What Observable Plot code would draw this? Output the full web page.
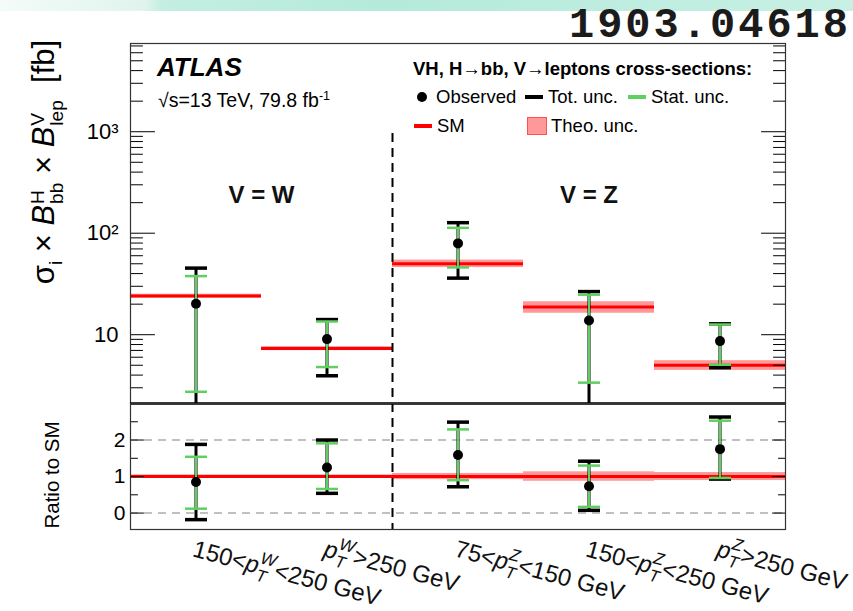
<!DOCTYPE html>
<html>
<head>
<meta charset="utf-8">
<script src="https://cdn.jsdelivr.net/npm/d3@7"></script>
<script src="https://cdn.jsdelivr.net/npm/@observablehq/plot@0.6"></script>
<style>
  html, body { margin: 0; padding: 0; background: #fff; }
  #page { position: relative; width: 853px; height: 611px; overflow: hidden; background: #fff;
          font-family: "Liberation Sans", Arial, Helvetica, sans-serif; color: #000; }
  #banner { position: absolute; left: 0; top: 0; width: 853px; height: 11px;
            background: linear-gradient(to right, #f4fbf9 0%, #e0f4ee 17%, #c3eee1 19%, #b5eada 45%, #bfede0 75%, #c8f0e4 100%); }
  #arxiv { position: absolute; right: 2px; top: 5px; font: bold 42px/42px "Liberation Mono", "DejaVu Sans Mono", monospace;
           letter-spacing: 3px; color: #1b1b1b; }
  .txt { position: absolute; white-space: nowrap; }
  .rot { position: absolute; white-space: nowrap; line-height: 1.2; transform: translate(-50%, -50%) rotate(-90deg); }
  .stk { display: inline-block; font-size: 0.62em; line-height: 1; vertical-align: -0.48em; margin-left: 0.04em; }
  .stk > span { display: block; }
  .sub { font-size: 0.62em; vertical-align: -0.45em; }
  .sw { position: absolute; }
</style>
</head>
<body>
<div id="page">
  <div id="banner"></div>
  <div id="arxiv">1903.04618</div>
  <div class="rot" style="left:46px; top:162px; font-size:31px;">σ<span class="sub">i</span> × <i>B</i><span class="stk"><span>H</span><span>bb</span></span> × <i>B</i><span class="stk"><span>V</span><span>lep</span></span>&nbsp; [fb]</div>
  <div class="rot" style="left:52px; top:475px; font-size:20.5px;">Ratio to SM</div>
</div>
<script>
// ---- Bins: V = W (two pT bins) and V = Z (three pT bins) ----
const binLabels = ["150<p_T^W<250 GeV", "p_T^W>250 GeV", "75<p_T^Z<150 GeV", "150<p_T^Z<250 GeV", "p_T^Z>250 GeV"];
const groupLabels = ["V = W", "V = Z"];
const groupFirstBin = [0, 2];
const groupLastBin = [1, 4];

// ---- Cross-sections times branching ratios [fb] ----
const smXsec   = [24.0, 7.3, 50.1, 18.7, 5.0];
const theoUnc  = [0.045, 0.045, 0.085, 0.13, 0.11];   // relative SM uncertainty
const obsXsec  = [20.2, 9.05, 79.4, 13.8, 8.65];
const totHigh  = [45.3, 14.1, 127, 26.6, 12.8];
const totLow   = [-4.4, 3.94, 36.1, 1.4, 4.73];
const statHigh = [37.8, 13.5, 113, 24.8, 12.6];
const statLow  = [2.74, 4.80, 46.0, 3.37, 5.06];

// ---- Ratio to SM ----
const obsRatio      = [0.85, 1.25, 1.59, 0.735, 1.75];
const totHighRatio  = [1.88, 2.00, 2.49, 1.42, 2.63];
const totLowRatio   = [-0.18, 0.54, 0.72, 0.075, 0.93];
const statHighRatio = [1.54, 1.91, 2.29, 1.30, 2.53];
const statLowRatio  = [0.12, 0.66, 0.90, 0.17, 0.96];

// ---- Axis ticks ----
const yTopTicks = [10, 100, 1000];
const yTopTickLabels = ["10", "10²", "10³"];
const yRatioTicks = [0, 1, 2];
const yRatioTickLabels = ["0", "1", "2"];
const yRatioMinor = [0.5, 1.5, 2.5];

// ---- Layout ----
const W = 853, H = 611;
const frame = {left: 130, right: 785, top: 43, split: 403, bottom: 529};
const yTopDomain = [2.1, 7400];
const yRatioDomain = [-0.45, 3.0];
const floorTop = yTopDomain[0] / 10;   // lower error ends below the axis are clipped at the frame

const red = "#ff0000", green = "#5fcf5f", black = "#000";
const font = '"Liberation Sans", Arial, Helvetica, sans-serif';

const rows = binLabels.map((label, i) => ({
  label, x1: i, x2: i + 1, center: i + 0.5,
  sm: smXsec[i], theo: theoUnc[i],
  obs: obsXsec[i], totHigh: totHigh[i], totLow: Math.max(totLow[i], floorTop),
  statHigh: statHigh[i], statLow: statLow[i],
  rObs: obsRatio[i], rTotHigh: totHighRatio[i], rTotLow: totLowRatio[i],
  rStatHigh: statHighRatio[i], rStatLow: statLowRatio[i]
}));
const groups = groupLabels.map((label, g) => ({label, center: (groupFirstBin[g] + groupLastBin[g] + 1) / 2}));
const boundary = groupLastBin[0] + 1;

// minor ticks of the log axis: 2..9 times each decade
const yTopMinor = [];
for (const dec of [1, 10, 100, 1000]) for (let k = 2; k <= 9; k++) {
  const v = k * dec;
  if (v > yTopDomain[0] && v < yTopDomain[1]) yTopMinor.push(v);
}

// horizontal cap of an error bar
const cap = {draw(ctx) { ctx.moveTo(-11, 0); ctx.lineTo(11, 0); }};
// plain straight line used for the inward tick marks
const tickLine = {draw(ctx, l) { ctx.moveTo(0, 0); ctx.lineTo(0, -l); }};

// inward tick marks on both vertical edges
function edgeTicks(values, len) {
  return [
    Plot.vector(values, {y: d => d, frameAnchor: "left", rotate: 90, length: len, anchor: "start",
                         shape: tickLine, stroke: black, strokeWidth: 1}),
    Plot.vector(values, {y: d => d, frameAnchor: "right", rotate: -90, length: len, anchor: "start",
                         shape: tickLine, stroke: black, strokeWidth: 1})
  ];
}

function errorMarks(yHi, yLo, sHi, sLo, obs, clip) {
  return [
    Plot.ruleX(rows, {x: "center", y1: yLo, y2: yHi, stroke: black, strokeWidth: 3, clip}),
    Plot.ruleX(rows, {x: "center", y1: sLo, y2: sHi, stroke: green, strokeWidth: 2, clip}),
    Plot.dot(rows, {x: "center", y: yHi, symbol: cap, fill: "none", stroke: black, strokeWidth: 3.5, clip}),
    Plot.dot(rows, {x: "center", y: yLo, symbol: cap, fill: "none", stroke: black, strokeWidth: 3.5, clip}),
    Plot.dot(rows, {x: "center", y: sHi, symbol: cap, fill: "none", stroke: green, strokeWidth: 2.5, clip}),
    Plot.dot(rows, {x: "center", y: sLo, symbol: cap, fill: "none", stroke: green, strokeWidth: 2.5, clip}),
    Plot.dot(rows, {x: "center", y: obs, r: 5, fill: black, stroke: "none"})
  ];
}

const banded = rows.filter(d => d.theo > 0);

// ---- Upper panel: cross-sections on a log scale ----
const topPlot = Plot.plot({
  width: W, height: H,
  marginLeft: frame.left, marginRight: W - frame.right, marginTop: frame.top, marginBottom: H - frame.split,
  style: {background: "transparent", fontFamily: font, fontSize: "22px", overflow: "visible"},
  x: {domain: [0, binLabels.length], axis: null},
  y: {type: "log", domain: yTopDomain, axis: null},
  marks: [
    Plot.rect(banded, {x1: "x1", x2: "x2", y1: d => d.sm * (1 - d.theo), y2: d => d.sm * (1 + d.theo), fill: red, fillOpacity: 0.4}),
    Plot.ruleY(rows, {x1: "x1", x2: "x2", y: "sm", stroke: red, strokeWidth: 3}),
    Plot.ruleX([boundary], {insetTop: 90, stroke: black, strokeWidth: 2, strokeDasharray: "9,6"}),
    ...errorMarks("totHigh", "totLow", "statHigh", "statLow", "obs", true),
    Plot.text(groups, {x: "center", text: "label", frameAnchor: "top", dy: 142, fontSize: 24, fontWeight: "bold", fill: "#111"}),
    ...edgeTicks(yTopTicks, 24),
    ...edgeTicks(yTopMinor, 12),
    Plot.axisY({ticks: yTopTicks, tickSize: 0, tickPadding: 12, fontSize: 22, label: null,
                tickFormat: d => yTopTickLabels[yTopTicks.indexOf(d)]}),
    Plot.frame({stroke: "#333", strokeWidth: 1.2}),
    Plot.ruleY([yTopDomain[0]], {stroke: black, strokeWidth: 2.5})
  ]
});

// ---- Lower panel: ratio to the SM prediction ----
const ratioPlot = Plot.plot({
  width: W, height: H,
  marginLeft: frame.left, marginRight: W - frame.right, marginTop: frame.split, marginBottom: H - frame.bottom,
  style: {background: "transparent", fontFamily: font, fontSize: "22px", overflow: "visible"},
  x: {domain: [0, binLabels.length], axis: null},
  y: {domain: yRatioDomain, axis: null},
  marks: [
    Plot.ruleY([0, 2], {stroke: "#c0c0c0", strokeWidth: 2, strokeDasharray: "8,6"}),
    Plot.rect(banded, {x1: "x1", x2: "x2", y1: d => 1 - d.theo, y2: d => 1 + d.theo, fill: red, fillOpacity: 0.4}),
    Plot.ruleY([1], {stroke: red, strokeWidth: 3}),
    Plot.ruleX([boundary], {stroke: black, strokeWidth: 2, strokeDasharray: "9,6"}),
    ...errorMarks("rTotHigh", "rTotLow", "rStatHigh", "rStatLow", "rObs", false),
    ...edgeTicks(yRatioTicks, 13),
    ...edgeTicks(yRatioMinor, 7),
    Plot.axisY({ticks: yRatioTicks, tickSize: 0, tickPadding: 5, fontSize: 21, label: null,
                tickFormat: d => yRatioTickLabels[yRatioTicks.indexOf(d)]}),
    Plot.text(rows, {x: "center", text: "label", frameAnchor: "bottom", dy: 10, rotate: 15,
                     textAnchor: "start", lineAnchor: "top", fontSize: 24, fill: "#111"}),
    Plot.frame({stroke: "#333", strokeWidth: 1.2})
  ]
});

const page = document.getElementById("page");
for (const svg of [topPlot, ratioPlot]) {
  svg.style.position = "absolute";
  svg.style.left = "0px";
  svg.style.top = "0px";
  page.appendChild(svg);
}

// p_T with the boson as superscript and T as subscript, stacked
const NS = "http://www.w3.org/2000/svg";
const xfs = 24;
ratioPlot.querySelectorAll('g[aria-label="text"] text').forEach(el => {
  const m = el.textContent.match(/^(.*)p_T\^(\w)(.*)$/);
  if (!m) return;
  const [, pre, boson, post] = m;
  el.textContent = "";
  const add = (s, attrs) => {
    const t = document.createElementNS(NS, "tspan");
    t.textContent = s;
    for (const k in attrs) t.setAttribute(k, attrs[k]);
    el.appendChild(t);
    return t;
  };
  if (pre) add(pre, {});
  add("p", {"font-style": "italic"});
  const sup = add(boson, {"font-style": "italic", "font-size": xfs * 0.7, dy: -0.45 * xfs});
  const wSup = sup.getComputedTextLength();
  const sub = add("T", {"font-style": "italic", "font-size": xfs * 0.7, dx: -wSup, dy: 0.75 * xfs});
  const wSub = sub.getComputedTextLength();
  add(post, {dx: Math.max(0, wSup - wSub) + 1, dy: -0.3 * xfs});
});

// ---- Text inside the frame: experiment label and legend ----
function addText(html, x, cy, fs, opts = {}) {
  const d = document.createElement("div");
  d.className = "txt";
  d.style.left = x + "px";
  d.style.top = (cy - fs / 2) + "px";
  d.style.fontSize = fs + "px";
  d.style.lineHeight = fs + "px";
  if (opts.bold) d.style.fontWeight = "bold";
  if (opts.italic) d.style.fontStyle = "italic";
  d.innerHTML = html;
  page.appendChild(d);
}
function addBox(x, y, w, h, css) {
  const d = document.createElement("div");
  d.className = "sw";
  Object.assign(d.style, {left: x + "px", top: y + "px", width: w + "px", height: h + "px"}, css);
  page.appendChild(d);
}

addText("ATLAS", 157, 67, 26, {bold: true, italic: true});
addText('√s=13 TeV, 79.8 fb<span style="font-size:0.65em; position:relative; top:-0.55em">-1</span>', 158, 101, 19.5);

const legendTitle = "VH, H→bb, V→leptons cross-sections:";
const legendEntries = [
  {label: "Observed", kind: "dot", x: 416, row: 0},
  {label: "Tot. unc.", kind: "line", color: black, x: 525, row: 0},
  {label: "Stat. unc.", kind: "line", color: green, x: 628, row: 0},
  {label: "SM", kind: "line", color: red, x: 414, row: 1},
  {label: "Theo. unc.", kind: "box", x: 527, row: 1}
];
const legendRowY = [97, 126];
const lfs = 18.5;
addText(legendTitle, 413, 69.5, lfs, {bold: true});
for (const e of legendEntries) {
  const cy = legendRowY[e.row];
  if (e.kind === "dot") {
    addBox(e.x + 1, cy - 5, 10, 10, {background: black, borderRadius: "50%"});
    addText(e.label, e.x + 20, cy, lfs);
  } else if (e.kind === "line") {
    addBox(e.x, cy - 2, 18, 4, {background: e.color});
    addText(e.label, e.x + 23, cy, lfs);
  } else {
    addBox(e.x, cy - 9, 20, 18, {background: "rgba(255,0,0,0.4)", border: "1px solid #ff5050", boxSizing: "border-box"});
    addText(e.label, e.x + 24, cy, lfs);
  }
}
</script>
</body>
</html>
